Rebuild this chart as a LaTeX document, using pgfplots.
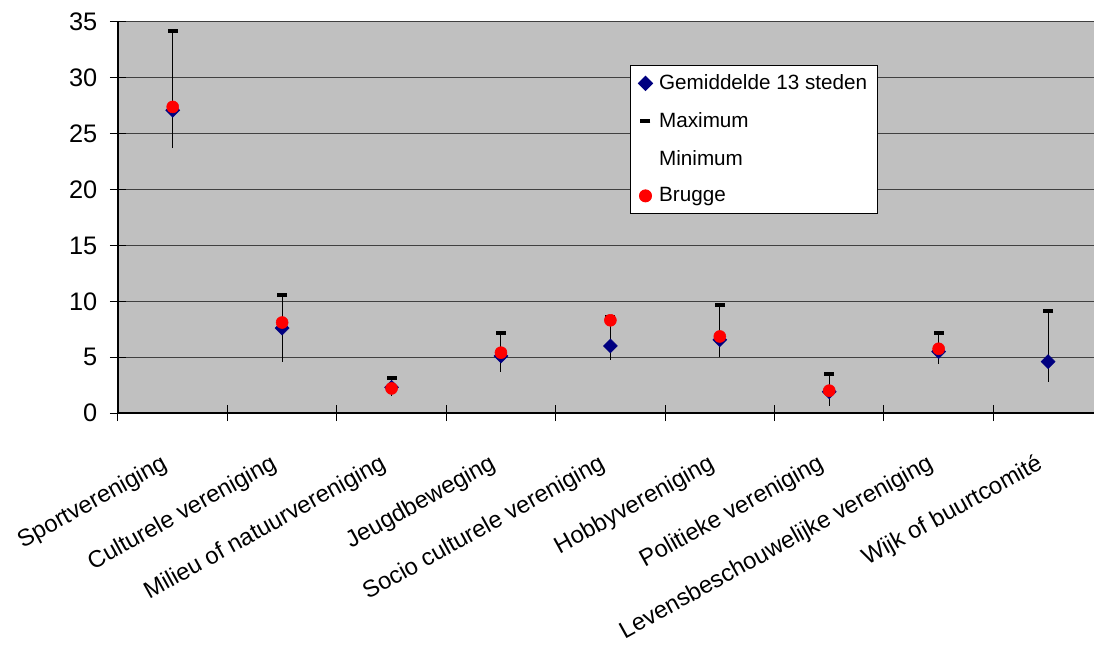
\documentclass[border=0pt]{standalone}
\usepackage{fontspec}
\setmainfont{Liberation Sans}
\usepackage{pgfplots}
\usepackage{pgfplotstable}
\pgfplotsset{compat=1.18}

\definecolor{plotbg}{RGB}{192,192,192}
\definecolor{navy}{RGB}{0,0,128}

% x mean max min brugge
\pgfplotstableread{
x mean max min brugge
0 27.1 34.2 23.7 27.4
1 7.6 10.6 4.6 8.1
2 2.3 3.1 1.5 2.2
3 5.1 7.2 3.7 5.4
4 6.0 8.6 4.75 8.3
5 6.55 9.7 5.0 6.85
6 1.9 3.45 0.65 2.0
7 5.5 7.2 4.4 5.75
8 4.6 9.15 2.8 nan
}\data

\begin{document}
\begin{tikzpicture}
\begin{axis}[
    name=ax,
    scale only axis,
    width=732pt, height=293.25pt,
    xmin=-0.5, xmax=8.42,
    ymin=0, ymax=35,
    axis x line*=bottom, axis y line*=left,
    axis line style={black, line width=0.9pt, -},
    axis background/.style={fill=plotbg},
    ytick={0,5,...,35},
    ymajorgrids,
    major grid style={black!75, line width=0.75pt},
    xtick={-0.1,0.9,...,7.9},
    xticklabels={Sportvereniging, Culturele vereniging, Milieu of natuurvereniging, Jeugdbeweging, Socio culturele vereniging, Hobbyvereniging, Politieke vereniging, Levensbeschouwelijke vereniging, Wijk of buurtcomit\'e},
    major x tick style={draw=none},
    minor xtick={-0.5,0.5,...,7.5},
    minor tick length=12pt,
    major tick length=12pt,
    tick align=center,
    tick style={black, line width=0.75pt},
    /pgf/number format/assume math mode=true,
    yticklabel style={font=\fontsize{19}{22}\selectfont, xshift=-6pt},
    xticklabel style={font=\fontsize{17.8}{20}\selectfont, rotate=29, anchor=north east},
    xticklabel shift=19pt,
    legend style={at={(0.5246,0.890)}, anchor=north west, draw=black, fill=white,
        line width=0.75pt, font=\fontsize{15.5}{18}\selectfont,
        inner xsep=6pt, inner ysep=5pt, row sep=11.5pt, column sep=3pt,
        cells={anchor=west}},
    legend image code/.code={\draw[#1] plot coordinates {(0pt,0pt)};},
]
% high-low lines from minimum to maximum
\addplot[forget plot, draw=none, mark=none,
    error bars/.cd, y dir=plus, y explicit, error mark=none,
    error bar style={black, line width=0.75pt}]
    table[x=x, y=min, y error expr=\thisrow{max}-\thisrow{min}] {\data};

\addplot[only marks, mark=square*, mark size=3.7pt, mark options={rotate=45, fill=navy, draw=navy}]
    table[x=x, y=mean] {\data};
\addlegendentry{Gemiddelde 13 steden}

\addplot[only marks, mark=-, mark size=3.75pt, mark options={line width=3pt, draw=black}]
    table[x=x, y=max] {\data};
\addlegendentry{Maximum}

\addlegendimage{draw=none, mark=none}
\addlegendentry{Minimum}

\addplot[only marks, mark=*, mark size=4.5pt, mark options={fill=red, draw=red}]
    table[x=x, y=brugge] {\data};
\addlegendentry{Brugge}
\end{axis}
\pgfresetboundingbox
\path[use as bounding box] ([xshift=-88.5pt, yshift=-174pt]ax.south west) rectangle ++(820.5pt, 483.75pt);
\end{tikzpicture}
\end{document}
